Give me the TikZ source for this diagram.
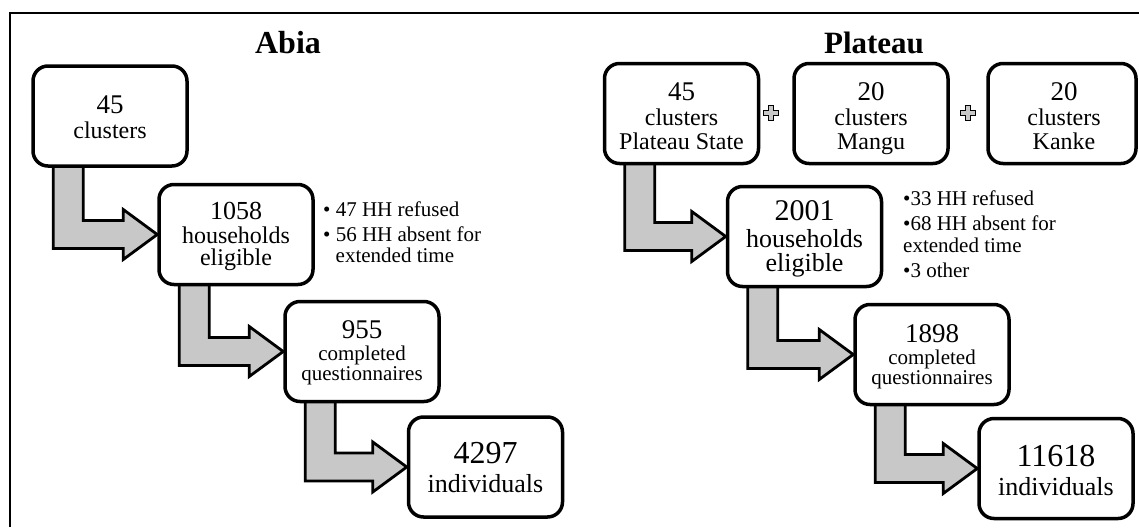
\documentclass[tikz,border=0pt]{standalone}
\usepackage{fontspec}
\setmainfont{Liberation Serif}
\usetikzlibrary{calc}
\definecolor{arrowgray}{RGB}{200,200,200}
\tikzset{
  box/.style={draw=black, line width=3.5pt, rounded corners=15pt, fill=white,
    minimum width=154pt, minimum height=100pt, inner sep=0pt},
  flow/.style={fill=arrowgray, draw=black, line width=2.8pt, line join=miter},
  fs/.style={font=\fontsize{#1}{#1}\selectfont},
  fsb/.style={font=\fontsize{#1}{#1}\selectfont\bfseries},
  txt/.style={inner sep=0pt, anchor=base},
  note/.style={inner sep=0pt, anchor=base west, fs=21},
  plusmk/.style={fill=arrowgray, draw=black, line width=1.3pt},
  frame/.style={draw=black, line width=2.6pt},
}
\newcommand\flowarrow[2]{%
  \draw[flow] let \p1=(#1.south west), \p2=(#2.west) in
    (\x1+22pt,\y1+8pt) -- (\x1+22pt,\y2-14pt) -- (\x2-34pt,\y2-14pt)
    -- (\x2-34pt,\y2-25pt) -- (\x2,\y2) -- (\x2-34pt,\y2+25pt)
    -- (\x2-34pt,\y2+14pt) -- (\x1+52pt,\y2+14pt) -- (\x1+52pt,\y1+8pt) -- cycle;}
\newcommand\plusmark[1]{%
  \draw[plusmk] (#1) ++(-2.75,-7.5) -- ++(5.5,0) -- ++(0,4.75) -- ++(4.75,0) -- ++(0,5.5)
    -- ++(-4.75,0) -- ++(0,4.75) -- ++(-5.5,0) -- ++(0,-4.75) -- ++(-4.75,0)
    -- ++(0,-5.5) -- ++(4.75,0) -- cycle;}
\begin{document}
\begin{tikzpicture}[x=1pt,y=-1pt]
\useasboundingbox (0,0) rectangle (1139,527);
\fill[white] (0,0) rectangle (1139,527);
\draw[frame] (10,527) -- (10,13) -- (1139,13);

% titles
\node[txt, fsb=32] (tabia) at (288,53) {Abia};
\node[txt, fsb=31] (tplat) at (874,53) {Plateau};

% box positions
\path (110,116) coordinate (ca1) (236,234.5) coordinate (ca2)
      (362,351.5) coordinate (ca3) (485.5,467) coordinate (ca4)
      (681.5,113.5) coordinate (cp1) (871,113.5) coordinate (cp2)
      (1062,113.5) coordinate (cp3) (804.5,236.5) coordinate (cp4)
      (932,354.5) coordinate (cp5) (1056,468.5) coordinate (cp6);

% invisible anchors for arrows (boxes drawn afterwards)
\node[box, draw=none, fill=none] (a1) at (ca1) {};
\node[box, draw=none, fill=none] (a2) at (ca2) {};
\node[box, draw=none, fill=none] (a3) at (ca3) {};
\node[box, draw=none, fill=none] (a4) at (ca4) {};
\node[box, draw=none, fill=none] (p1) at (cp1) {};
\node[box, draw=none, fill=none] (p4) at (cp4) {};
\node[box, draw=none, fill=none] (p5) at (cp5) {};
\node[box, draw=none, fill=none] (p6) at (cp6) {};

\flowarrow{a1}{a2}
\flowarrow{a2}{a3}
\flowarrow{a3}{a4}
\flowarrow{p1}{p4}
\flowarrow{p4}{p5}
\flowarrow{p5}{p6}

% boxes
\node[box] (A1) at (ca1) {};
\node[box] (A2) at (ca2) {};
\node[box] (A3) at (ca3) {};
\node[box] (A4) at (ca4) {};
\node[box] (P1) at (cp1) {};
\node[box] (P2) at (cp2) {};
\node[box, minimum width=148pt] (P3) at (cp3) {};
\node[box] (P4) at (cp4) {};
\node[box] (P5) at (cp5) {};
\node[box] (P6) at (cp6) {};

% Abia texts
\node[txt, fs=27] (a1n) at (110,113) {45};
\node[txt, fs=24] (a1l) at (110,138) {clusters};
\node[txt, fs=26] (a2n) at (236,219) {1058};
\node[txt, fs=24] (a2l) at (236,243) {households};
\node[txt, fs=24] (a2m) at (236,265) {eligible};
\node[txt, fs=27] (a3n) at (362,338) {955};
\node[txt, fs=21] (a3l) at (362,360) {completed};
\node[txt, fs=21] (a3m) at (362,380) {questionnaires};
\node[txt, fs=32] (a4n) at (485.5,463) {4297};
\node[txt, fs=26] (a4l) at (485.5,492) {individuals};

\node[note] (na1) at (323,216) {• 47 HH refused};
\node[note] (na2) at (323,241) {• 56 HH absent for};
\node[note] (na3) at (335.5,262) {extended time};

% Plateau texts
\node[txt, fs=27] (p1n) at (681.5,100) {45};
\node[txt, fs=24] (p1l) at (681.5,125) {clusters};
\node[txt, fs=24] (p1m) at (681.5,149) {Plateau State};
\node[txt, fs=27] (p2n) at (871,100) {20};
\node[txt, fs=24] (p2l) at (871,125) {clusters};
\node[txt, fs=24] (p2m) at (871,149) {Mangu};
\node[txt, fs=27] (p3n) at (1064,100) {20};
\node[txt, fs=24] (p3l) at (1064,125) {clusters};
\node[txt, fs=24] (p3m) at (1064,149) {Kanke};
\node[txt, fs=30] (p4n) at (804.5,220) {2001};
\node[txt, fs=26] (p4l) at (804.5,247) {households};
\node[txt, fs=26] (p4m) at (804.5,271) {eligible};
\node[txt, fs=27] (p5n) at (932,342) {1898};
\node[txt, fs=21] (p5l) at (932,364) {completed};
\node[txt, fs=21] (p5m) at (932,384) {questionnaires};
\node[txt, fs=32] (p6n) at (1056,466) {11618};
\node[txt, fs=26] (p6l) at (1056,495) {individuals};

\node[note] (np1) at (903,205) {•33 HH refused};
\node[note] (np2) at (903,230) {•68 HH absent for};
\node[note] (np3) at (903,252) {extended time};
\node[note] (np4) at (903,277) {•3 other};

% plus signs
\coordinate (plusA) at (771,113);
\coordinate (plusB) at (968,113);
\plusmark{plusA}
\plusmark{plusB}
\end{tikzpicture}
\end{document}
